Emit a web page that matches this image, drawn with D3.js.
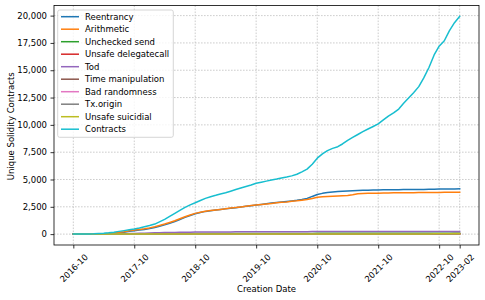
<!DOCTYPE html>
<html>
<head>
<meta charset="utf-8">
<script src="https://cdn.jsdelivr.net/npm/d3@7"></script>
<style>
  body { margin: 0; background: #fff; }
  svg text { font-family: "DejaVu Sans", sans-serif; fill: #000; }
</style>
</head>
<body>
<svg class="svg-main" width="485" height="300"></svg>
<script>
// monthly values, 2016-10 .. 2023-02
const startMonth = "2016-10";
const tickLabels = ["2016-10", "2017-10", "2018-10", "2019-10", "2020-10", "2021-10", "2022-10", "2023-02"];
const yTicks = [0, 2500, 5000, 7500, 10000, 12500, 15000, 17500, 20000];

const seriesNames = ["Reentrancy", "Arithmetic", "Unchecked send", "Unsafe delegatecall", "Tod",
  "Time manipulation", "Bad randomness", "Tx.origin", "Unsafe suicidial", "Contracts"];

const reentrancy = [0,0,2,5,10,18,30,50,80,130,180,250,310,370,430,510,600,720,850,1000,1160,1340,1530,1700,1860,1980,2080,2140,2200,2250,2310,2370,2420,2480,2540,2600,2660,2720,2780,2840,2890,2940,2990,3040,3090,3160,3260,3450,3620,3730,3800,3860,3900,3930,3950,3970,3990,4010,4020,4030,4040,4050,4060,4065,4070,4075,4080,4085,4090,4095,4100,4110,4120,4130,4135,4140,4150];
const arithmetic = [0,2,5,10,15,25,40,60,100,160,220,300,370,430,490,570,670,790,920,1070,1220,1400,1590,1750,1900,2010,2100,2160,2210,2260,2320,2380,2430,2490,2550,2610,2660,2710,2760,2810,2860,2910,2950,3000,3050,3110,3160,3260,3370,3420,3450,3470,3490,3510,3530,3600,3690,3720,3730,3740,3750,3760,3770,3775,3780,3785,3790,3795,3800,3805,3810,3815,3820,3822,3825,3828,3830];
const uncheckedSend = [0,0,0,0,0,1,2,3,5,8,11,14,18,22,26,30,33,36,39,42,44,46,48,50,52,53,54,55,56,57,58,59,60,60,61,61,62,62,63,63,64,64,65,65,66,66,67,67,68,68,69,69,70,70,70,71,71,71,72,72,72,73,73,73,74,74,74,75,75,75,76,76,76,77,77,77,78];
const unsafeDelegatecall = [0,0,0,0,0,0,0,0,1,1,2,2,3,3,4,4,5,5,6,6,7,7,8,8,8,9,9,9,10,10,10,10,11,11,11,11,12,12,12,12,12,13,13,13,13,13,14,14,14,14,14,14,15,15,15,15,15,15,15,16,16,16,16,16,16,16,16,17,17,17,17,17,17,17,17,17,17];
const tod = [0,0,0,0,0,2,5,10,15,25,35,45,60,75,90,105,120,130,140,150,158,165,172,178,183,187,190,193,196,199,202,204,206,208,210,212,214,216,218,219,220,221,222,223,224,225,226,228,230,231,232,233,234,235,236,237,238,239,240,241,242,243,243,244,244,245,245,246,246,247,247,248,248,249,249,250,250];
const timeManipulation = [0,0,0,0,0,0,1,2,3,5,7,9,12,15,18,20,22,24,26,27,28,29,30,31,32,32,33,33,34,34,35,35,35,36,36,36,37,37,37,38,38,38,38,39,39,39,39,40,40,40,40,40,41,41,41,41,41,42,42,42,42,42,42,43,43,43,43,43,43,44,44,44,44,44,44,45,45];
const badRandomness = [0,0,0,0,0,0,0,1,2,3,4,5,6,7,8,9,10,11,12,13,14,15,15,16,16,17,17,18,18,18,19,19,19,20,20,20,20,21,21,21,21,22,22,22,22,22,23,23,23,23,23,23,24,24,24,24,24,24,24,25,25,25,25,25,25,25,25,26,26,26,26,26,26,26,26,26,26];
const txOrigin = [0,0,0,0,0,0,1,1,2,3,4,5,7,9,11,12,13,14,15,16,17,18,19,20,20,21,21,22,22,23,23,24,24,24,25,25,25,26,26,26,26,27,27,27,27,28,28,28,28,28,29,29,29,29,29,29,30,30,30,30,30,30,31,31,31,31,31,31,31,32,32,32,32,32,32,32,32];
const unsafeSuicidal = [0,0,0,0,0,0,0,1,1,2,3,4,5,6,7,8,9,10,10,11,11,12,12,13,13,13,14,14,14,15,15,15,15,16,16,16,16,17,17,17,17,17,18,18,18,18,18,18,19,19,19,19,19,19,19,20,20,20,20,20,20,20,20,21,21,21,21,21,21,21,21,22,22,22,22,22,22];
const contracts = [0,5,10,20,30,50,80,120,180,250,320,400,470,560,670,780,920,1120,1350,1620,1900,2180,2450,2680,2870,3080,3270,3420,3550,3680,3790,3930,4080,4220,4360,4500,4650,4750,4850,4950,5040,5140,5230,5330,5480,5700,5950,6400,6950,7350,7640,7850,8000,8250,8580,8850,9120,9380,9620,9850,10090,10450,10800,11100,11450,11950,12450,12950,13500,14300,15250,16400,17200,17700,18600,19350,19930];

const colors = ["#1f77b4", "#ff7f0e", "#2ca02c", "#d62728", "#9467bd",
  "#8c564b", "#e377c2", "#7f7f7f", "#bcbd22", "#17becf"];

const svg = d3.select(".svg-main");
const plot = { left: 54, right: 479, top: 5.5, bottom: 245 };
const fontSize = 8.5;

const parseMonth = d3.timeParse("%Y-%m");
const t0 = parseMonth(startMonth);
const allValues = [reentrancy, arithmetic, uncheckedSend, unsafeDelegatecall, tod,
  timeManipulation, badRandomness, txOrigin, unsafeSuicidal, contracts];
const dates = contracts.map((d, i) => d3.timeMonth.offset(t0, i));

const series = seriesNames.map((name, i) => ({
  name: name,
  color: colors[i],
  values: allValues[i].map((v, j) => ({ date: dates[j], value: v }))
}));

// matplotlib-like 5% margins
const tMin = +dates[0], tMax = +dates[dates.length - 1];
const tPad = (tMax - tMin) * 0.05;
const x = d3.scaleTime()
  .domain([new Date(tMin - tPad), new Date(tMax + tPad)])
  .range([plot.left, plot.right]);

const vMax = d3.max(allValues, arr => d3.max(arr));
const vPad = vMax * 0.05;
const y = d3.scaleLinear()
  .domain([-vPad, vMax + vPad])
  .range([plot.bottom, plot.top]);

const tickDates = tickLabels.map(parseMonth);

// grid
const grid = svg.append("g").attr("class", "grid");
grid.selectAll("line.gx")
  .data(tickDates)
  .enter().append("line")
    .attr("x1", d => x(d)).attr("x2", d => x(d))
    .attr("y1", plot.top).attr("y2", plot.bottom);
grid.selectAll("line.gy")
  .data(yTicks)
  .enter().append("line")
    .attr("x1", plot.left).attr("x2", plot.right)
    .attr("y1", d => y(d)).attr("y2", d => y(d));
grid.selectAll("line")
  .attr("stroke", "#c0c0c0")
  .attr("stroke-width", 0.8)
  .attr("stroke-dasharray", "1.6,1.4");

// lines
const line = d3.line()
  .x(d => x(d.date))
  .y(d => y(d.value));

svg.append("g")
  .selectAll("path")
  .data(series)
  .enter().append("path")
    .attr("fill", "none")
    .attr("stroke", d => d.color)
    .attr("stroke-width", 1.5)
    .attr("stroke-linejoin", "round")
    .attr("stroke-linecap", "square")
    .attr("d", d => line(d.values));

// frame
svg.append("rect")
  .attr("x", plot.left).attr("y", plot.top)
  .attr("width", plot.right - plot.left)
  .attr("height", plot.bottom - plot.top)
  .attr("fill", "none")
  .attr("stroke", "#000")
  .attr("stroke-width", 0.8);

// y axis
const yAxis = svg.append("g")
  .attr("transform", `translate(${plot.left},0)`)
  .call(d3.axisLeft(y).tickValues(yTicks).tickSize(3.5).tickPadding(3.5)
    .tickFormat(d3.format(",")));
yAxis.select(".domain").remove();
yAxis.selectAll(".tick line").attr("stroke", "#000").attr("stroke-width", 0.8);
yAxis.selectAll(".tick text")
  .attr("font-size", fontSize)
  .attr("font-family", "DejaVu Sans")
  .attr("dy", "0.32em");

// x axis
const xAxis = svg.append("g")
  .attr("transform", `translate(0,${plot.bottom})`)
  .call(d3.axisBottom(x).tickValues(tickDates).tickSize(3.5)
    .tickFormat((d, i) => tickLabels[i]));
xAxis.select(".domain").remove();
xAxis.selectAll(".tick line").attr("stroke", "#000").attr("stroke-width", 0.8);
xAxis.selectAll(".tick text")
  .attr("font-size", fontSize)
  .attr("font-family", "DejaVu Sans")
  .attr("text-anchor", "middle")
  .attr("dominant-baseline", "central")
  .attr("dy", null)
  .each(function() {
    const len = this.getComputedTextLength();
    const h = fontSize * 1.16;
    const half = (len + h) * Math.SQRT1_2 / 2;
    d3.select(this)
      .attr("y", 0)
      .attr("transform", `translate(0,${7 + half}) rotate(-45)`);
  });

// axis labels
svg.append("text")
  .attr("x", (plot.left + plot.right) / 2)
  .attr("y", 292)
  .attr("text-anchor", "middle")
  .attr("font-size", fontSize)
  .text("Creation Date");

svg.append("text")
  .attr("transform", `translate(14,${(plot.top + plot.bottom) / 2 + 1}) rotate(-90)`)
  .attr("text-anchor", "middle")
  .attr("font-size", fontSize)
  .text("Unique Solidity Contracts");

// legend
const legend = svg.append("g").attr("class", "legend");
legend.append("rect")
  .attr("x", 57.7).attr("y", 10)
  .attr("width", 115.6).attr("height", 127.3)
  .attr("rx", 2)
  .attr("fill", "#fff").attr("fill-opacity", 0.8)
  .attr("stroke", "#cccccc").attr("stroke-width", 0.8);

const rowH = 12.5;
const item = legend.selectAll("g.item")
  .data(series)
  .enter().append("g")
    .attr("class", "item")
    .attr("transform", (d, i) => `translate(0,${16.7 + i * rowH})`);
item.append("line")
  .attr("x1", 61).attr("x2", 79)
  .attr("y1", 0).attr("y2", 0)
  .attr("stroke", d => d.color)
  .attr("stroke-width", 1.5);
item.append("text")
  .attr("x", 85).attr("y", 0)
  .attr("dy", "0.35em")
  .attr("font-size", fontSize)
  .text(d => d.name);
</script>
</body>
</html>
